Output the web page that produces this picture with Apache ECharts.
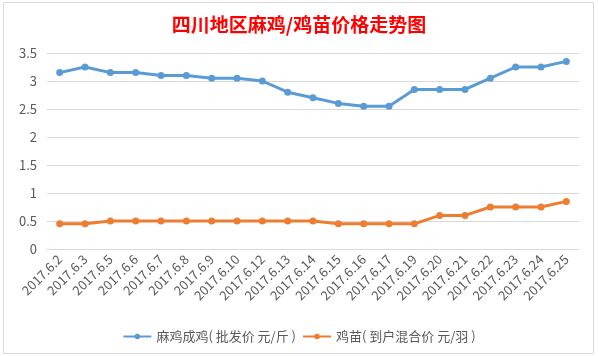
<!DOCTYPE html>
<html>
<head>
<meta charset="utf-8">
<script src="https://cdn.jsdelivr.net/npm/echarts@6/dist/echarts.min.js"></script>
<style>
html,body{margin:0;padding:0;background:#fff;}
#c{width:598px;height:356px;}
</style>
</head>
<body>
<div id="c"></div>
<script>
var categories = ['2017.6.2','2017.6.3','2017.6.5','2017.6.6','2017.6.7','2017.6.8','2017.6.9','2017.6.10','2017.6.12','2017.6.13','2017.6.14','2017.6.15','2017.6.16','2017.6.17','2017.6.19','2017.6.20','2017.6.21','2017.6.22','2017.6.23','2017.6.24','2017.6.25'];
var adultChicken = [3.15,3.25,3.15,3.15,3.1,3.1,3.05,3.05,3.0,2.8,2.7,2.6,2.55,2.55,2.85,2.85,2.85,3.05,3.25,3.25,3.35];
var chicks = [0.45,0.45,0.5,0.5,0.5,0.5,0.5,0.5,0.5,0.5,0.5,0.45,0.45,0.45,0.45,0.6,0.6,0.75,0.75,0.75,0.85];
var seriesNames = ['麻鸡成鸡( 批发价 元/斤 )','鸡苗( 到户混合价 元/羽 )'];
var titleText = '四川地区麻鸡/鸡苗价格走势图';

var chart = echarts.init(document.getElementById('c'), null, {renderer:'canvas'});
var font = '"Noto Sans CJK SC", "Microsoft YaHei", sans-serif';
chart.setOption({
  animation:false,
  backgroundColor:'#fff',
  textStyle:{fontFamily:font},
  graphic:[{type:'rect',shape:{x:3.5,y:2.5,width:590,height:351},style:{fill:'none',stroke:'#d9d9d9',lineWidth:1},silent:true}],
  title:{text:titleText,left:'center',top:10,textStyle:{color:'#ff0000',fontSize:19,fontWeight:'bold',fontFamily:font}},
  legend:{data:seriesNames,left:'center',top:325,itemWidth:28,itemHeight:7,itemGap:6,
    textStyle:{color:'#595959',fontSize:13,fontFamily:font}},
  grid:{left:47,right:19,top:53,bottom:107},
  xAxis:{type:'category',data:categories,boundaryGap:true,
    axisLine:{lineStyle:{color:'#d9d9d9'}},axisTick:{show:false},
    axisLabel:{rotate:45,interval:0,color:'#595959',fontSize:13,margin:8,fontFamily:font}},
  yAxis:{type:'value',min:0,max:3.5,interval:0.5,
    axisLine:{show:false},axisTick:{show:false},
    splitLine:{lineStyle:{color:'#d9d9d9'}},
    axisLabel:{color:'#595959',fontSize:13,margin:10,fontFamily:font}},
  series:[
    {name:seriesNames[0],type:'line',data:adultChicken,color:'#5b9bd5',symbol:'circle',symbolSize:7,lineStyle:{width:3}},
    {name:seriesNames[1],type:'line',data:chicks,color:'#ed7d31',symbol:'circle',symbolSize:7,lineStyle:{width:3}}
  ]
});
</script>
</body>
</html>
